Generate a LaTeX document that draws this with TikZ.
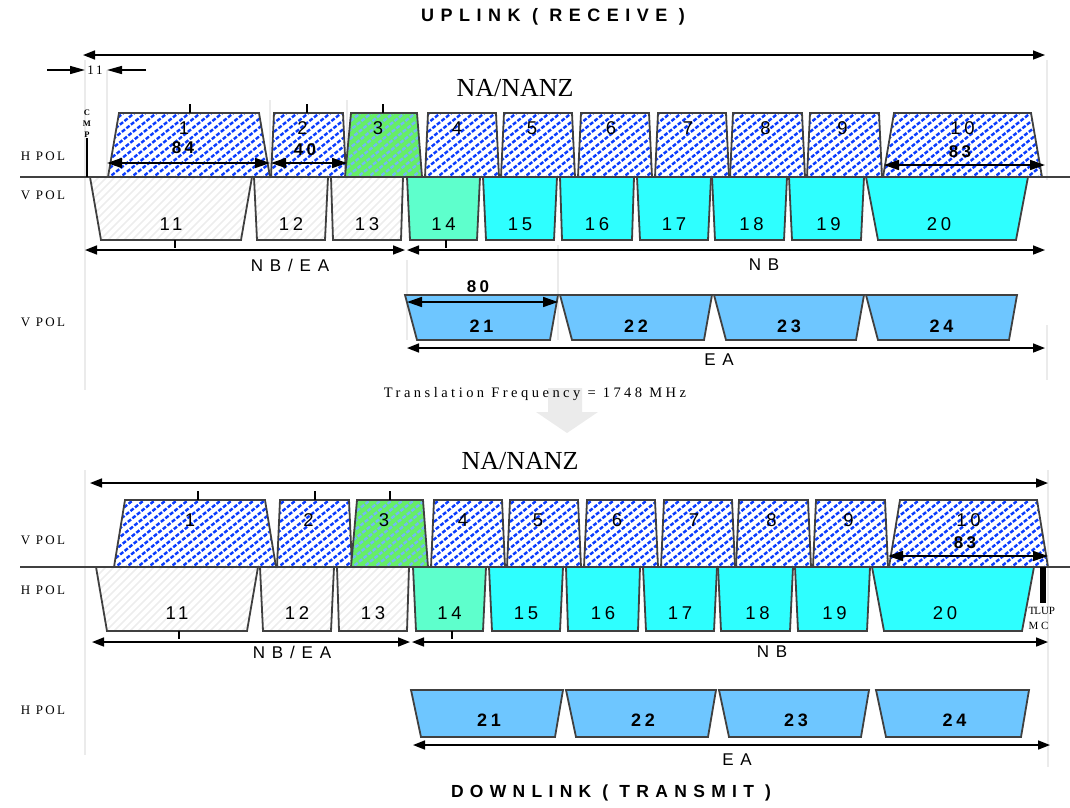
\documentclass[tikz,border=0pt]{standalone}
\usepackage{fontspec}
\setmainfont{Liberation Serif}
\newfontfamily\chfont[LetterSpace=20]{Liberation Sans}
\newfontfamily\bandfont[LetterSpace=40]{Liberation Sans}
\newfontfamily\headfont[LetterSpace=36]{Liberation Sans}
\newfontfamily\polfont[LetterSpace=18]{Liberation Serif}
\newfontfamily\transfont[LetterSpace=24]{Liberation Serif}
\usetikzlibrary{arrows.meta}
\definecolor{hatchblue}{HTML}{0A3CFF}
\definecolor{chgreen}{HTML}{66EE66}
\definecolor{greenhatch}{HTML}{72B8F4}
\definecolor{chmint}{HTML}{5EFFCC}
\definecolor{chcyan}{HTML}{2EFFFF}
\definecolor{chsky}{HTML}{6EC6FF}
\definecolor{edgegray}{HTML}{404040}
\definecolor{guidegray}{HTML}{EBEBEB}

\begin{document}
\begin{tikzpicture}[
    x=1pt, y=-1pt,
    chan/.style={draw=edgegray, line width=1.8pt, line join=miter},
    bluehatch/.style={draw=hatchblue, line width=2.4pt, dash pattern=on 4pt off 1.8pt},
    greenhatchline/.style={draw=greenhatch, line width=2.4pt, dash pattern=on 4pt off 1.8pt},
    grayhatch/.style={draw=black!7, line width=1.6pt},
    chnum/.style={font=\chfont\fontsize{18.5}{18.5}\selectfont},
    dimnum/.style={font=\chfont\bfseries\fontsize{17}{17}\selectfont},
    band/.style={font=\bandfont\fontsize{17}{17}\selectfont},
    pol/.style={font=\polfont\fontsize{13}{13}\selectfont},
    dim/.style={{Triangle[length=15pt,width=10pt]}-{Triangle[length=15pt,width=10pt]}, line width=1.6pt},
    span/.style={{Triangle[length=12pt,width=9pt]}-{Triangle[length=12pt,width=9pt]}, line width=1.6pt},
    guide/.style={draw=guidegray, line width=1.8pt},
    tick/.style={line width=1.8pt},
  ]
  \useasboundingbox (0,0) rectangle (1070,807);

  % faint guide lines
  \draw[guide] (85,60) -- (85,390);
  \draw[guide] (107,70) -- (107,177);
  \draw[guide] (270,100) -- (270,177);
  \draw[guide] (347,100) -- (347,177);
  \draw[guide] (1047,60) -- (1047,180);
  \draw[guide] (407,260) -- (407,340);
  \draw[guide] (558,245) -- (558,340);
  \draw[guide] (1047,325) -- (1047,380);
  \draw[guide] (85,470) -- (85,755);
  \draw[guide] (1048,470) -- (1048,767);

  % titles
  \node[font=\headfont\bfseries\fontsize{18}{18}\selectfont] (uplink) at (553,17) {UPLINK ( RECEIVE )};
  \node[font=\headfont\bfseries\fontsize{17.5}{17.5}\selectfont] (downlink) at (611,793) {DOWNLINK ( TRANSMIT )};
  \node[font=\fontsize{26}{26}\selectfont] (nanzup) at (515,88) {NA/NANZ};
  \node[font=\fontsize{26}{26}\selectfont] (nanzdown) at (520,461) {NA/NANZ};

  \draw[span] (83,55) -- (1045,55);
  \draw[span] (90,483) -- (1048,483);

  % guard band at the left
  \draw[-{Triangle[length=15pt,width=8pt]}, line width=1.4pt] (47,70) -- (85,70);
  \draw[-{Triangle[length=15pt,width=8pt]}, line width=1.4pt] (146,70) -- (107,70);
  \node[font=\fontsize{13}{13}\selectfont] (guard) at (95,70) {1\,1};

  % polarisation labels
  \node[pol] at (43,156) {H POL};
  \node[pol] at (43,195) {V POL};
  \node[pol] at (43,322) {V POL};
  \node[pol] at (43,540) {V POL};
  \node[pol] at (43,590) {H POL};
  \node[pol] at (43,710) {H POL};

  % pol split lines
  \draw[edgegray, line width=1.2pt] (20,177) -- (1070,177);
  \draw[edgegray, line width=1.2pt] (20,567) -- (1070,567);

  % both sections: top row, bottom row
  \foreach \s/\yt/\ym/\yb/\tl/\bl in {0/113/177/240/128/224, 6/500/567/631/520/613} {
    % hatched channels, wide at the bottom
    \foreach \l/\r/\i/\t/\dx in {108/270/11/1/-5, 271/346/3/2/-6, 425/499/3/4/-5, 501/575/3/5/-6,
                                 578/652/3/6/-4, 655/729/3/7/-4, 730/805/3/8/-2, 807/882/3/9/-2, 883/1042/11/10/0} {
      \begin{scope}
        \clip (\l+\s,\ym) -- (\l+\s+\i,\yt) -- (\r+\s-\i,\yt) -- (\r+\s,\ym) -- cycle;
        \foreach \k in {0,...,26}
          \draw[bluehatch] (\l+\s-100+11*\k,\ym+2) -- ++(100,-80);
      \end{scope}
      \draw[chan] (\l+\s,\ym) -- (\l+\s+\i,\yt) -- (\r+\s-\i,\yt) -- (\r+\s,\ym) -- cycle;
      \node[chnum] at ({(\l+\r)/2+\s+\dx},\tl) {\t};
    }
    % channel 3
    \begin{scope}
      \clip (345+\s,\ym) -- (351+\s,\yt) -- (417+\s,\yt) -- (422+\s,\ym) -- cycle;
      \fill[chgreen] (300,\yt-5) rectangle (460,\ym+5);
      \foreach \k in {0,...,17}
        \draw[greenhatchline] (345+\s-100+11*\k,\ym+2) -- ++(100,-80);
    \end{scope}
    \draw[chan] (345+\s,\ym) -- (351+\s,\yt) -- (417+\s,\yt) -- (422+\s,\ym) -- cycle;
    \node[chnum] at (378+\s,\tl) {3};

    % channels 11 to 13
    \foreach \l/\r/\i/\t in {90/252/11/11, 254/328/3/12, 331/403/2/13} {
      \begin{scope}
        \clip (\l+\s,\ym) -- (\r+\s,\ym) -- (\r+\s-\i,\yb) -- (\l+\s+\i,\yb) -- cycle;
        \foreach \k in {0,...,29}
          \draw[grayhatch] (\l+\s-70+8*\k,\yb) -- ++(70,-70);
      \end{scope}
      \draw[chan] (\l+\s,\ym) -- (\r+\s,\ym) -- (\r+\s-\i,\yb) -- (\l+\s+\i,\yb) -- cycle;
      \node[chnum] at ({(\l+\r)/2+\s},\bl) {\t};
    }
    % channels 14 to 20
    \foreach \l/\r/\i/\t/\c/\dx in {407/480/3/14/chmint/0, 483/557/3/15/chcyan/0, 560/634/2/16/chcyan/0,
                                    637/711/3/17/chcyan/0, 712/787/3/18/chcyan/2, 789/864/3/19/chcyan/2, 866/1028/12/20/chcyan/-8} {
      \draw[chan, fill=\c] (\l+\s,\ym) -- (\r+\s,\ym) -- (\r+\s-\i,\yb) -- (\l+\s+\i,\yb) -- cycle;
      \node[chnum] at ({(\l+\r)/2+\s+\dx},\bl) {\t};
    }
    % centre ticks
    \draw[tick] (190+1.3*\s,\yt-9) -- (190+1.3*\s,\yt);
    \draw[tick] (307+1.3*\s,\yt-9) -- (307+1.3*\s,\yt);
    \draw[tick] (383+1.2*\s,\yt-9) -- (383+1.2*\s,\yt);
    \draw[tick] (175+0.7*\s,\yb) -- (175+0.7*\s,\yb+8);
    \draw[tick] (446+\s,\yb) -- (446+\s,\yb+8);
  }

  % EA channels 21 to 24
  \foreach \l/\r/\t in {405/558/21, 560/712/22, 714/864/23, 866/1017/24} {
    \draw[chan, fill=chsky] (\l,295) -- (\r,295) -- (\r-8,340) -- (\l+12,340) -- cycle;
    \node[font=\chfont\bfseries\fontsize{18}{18}\selectfont] at ({(\l+\r)/2},326) {\t};
  }
  \foreach \l/\r/\t in {411/563/21, 566/716/22, 719/869/23, 876/1029/24} {
    \draw[chan, fill=chsky] (\l,690) -- (\r,690) -- (\r-8,737) -- (\l+10,737) -- cycle;
    \node[font=\chfont\bfseries\fontsize{18}{18}\selectfont] at ({(\l+\r)/2+2},720) {\t};
  }

  % bandwidth dimensions, uplink
  \draw[dim] (107,163) -- (270,163);
  \node[dimnum] at (183,148) {84};
  \draw[dim] (271,163) -- (347,163);
  \node[dimnum] at (305,150) {40};
  \draw[dim] (884,165) -- (1045,165);
  \node[dimnum] at (960,152) {83};
  \draw[dim] (407,302) -- (558,302);
  \node[dimnum] at (478,287) {80};

  % bandwidth dimensions, downlink
  \draw[dim] (888,556) -- (1048,556);
  \node[dimnum] at (965,543) {83};

  % band spans
  \draw[span] (85,250) -- (405,250);
  \node[band] at (290,265) {NB/EA};
  \draw[span] (407,250) -- (1045,250);
  \node[band] at (764,265) {NB};
  \draw[span] (407,348) -- (1045,348);
  \node[band] at (719,360) {EA};
  \draw[span] (92,642) -- (410,642);
  \node[band] at (292,652) {NB/EA};
  \draw[span] (412,642) -- (1048,642);
  \node[band] at (772,652) {NB};
  \draw[span] (413,745) -- (1050,745);
  \node[band] at (737,760) {EA};

  % command and telemetry markers
  \node[font=\bfseries\fontsize{8.5}{8.5}\selectfont] at (87,113) {C};
  \node[font=\bfseries\fontsize{8.5}{8.5}\selectfont] at (87,124) {M};
  \node[font=\bfseries\fontsize{8.5}{8.5}\selectfont] at (87,135) {P};
  \draw[line width=2.5pt] (87,138) -- (87,177);
  \draw[line width=6pt] (1043,567) -- (1043,603);
  \node[anchor=west, font=\fontsize{11}{11}\selectfont] at (1025,611) {T\kern-1pt LUP};
  \node[anchor=west, font=\fontsize{11}{11}\selectfont] at (1025,626) {M C};

  % translation
  \fill[guidegray] (548,388) -- (582,388) -- (582,412) -- (598,412) -- (567,433) -- (536,412) -- (548,412) -- cycle;
  \node[font=\transfont\fontsize{14.5}{14.5}\selectfont] (trans) at (535,394) {Translation Frequency = 1748 MHz};

\end{tikzpicture}
\end{document}
